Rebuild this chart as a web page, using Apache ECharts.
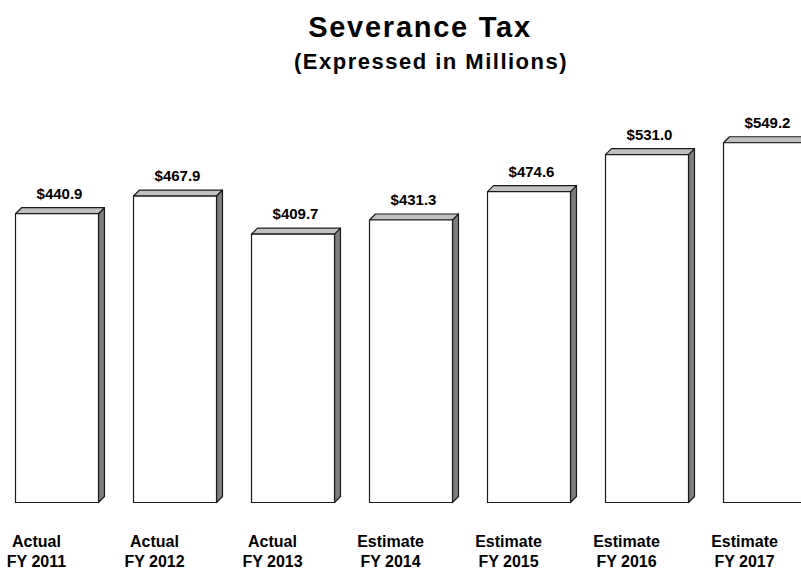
<!DOCTYPE html>
<html>
<head>
<meta charset="utf-8">
<title>Severance Tax</title>
<script src="https://cdn.jsdelivr.net/npm/echarts@6/dist/echarts.min.js"></script>
<style>
  html, body { margin: 0; padding: 0; background: #ffffff; }
  #chart { width: 801px; height: 571px; }
</style>
</head>
<body>
<div id="chart"></div>
<script>
// Fiscal-year severance tax collections, in millions of dollars
const stages = ['Actual', 'Actual', 'Actual', 'Estimate', 'Estimate', 'Estimate', 'Estimate'];
const fiscalYears = ['FY 2011', 'FY 2012', 'FY 2013', 'FY 2014', 'FY 2015', 'FY 2016', 'FY 2017'];
const revenue = [440.9, 467.9, 409.7, 431.3, 474.6, 531.0, 549.2];

const FONT = "'Liberation Sans', Arial, Helvetica, sans-serif";
const BAR_RATIO = 83 / 118;   // front face width as a share of the category band
const DEPTH = 6;              // depth of the extruded top and side faces, px

const categories = stages.map((s, i) => s + '\n' + fiscalYears[i]);

function renderBar(params, api) {
  const idx = api.value(0);
  const val = api.value(1);
  const topPt = api.coord([idx, val]);
  const basePt = api.coord([idx, 0]);
  const band = api.size([1, 0])[0];
  const w = band * BAR_RATIO;
  const x0 = topPt[0] - w / 2;
  const x1 = topPt[0] + w / 2;
  const yT = topPt[1];
  const yB = basePt[1];
  const d = DEPTH;
  const edge = { stroke: '#1a1a1a', lineWidth: 1.2, lineJoin: 'round' };
  return {
    type: 'group',
    children: [
      {
        type: 'polygon',
        shape: { points: [[x1, yT], [x1 + d, yT - d], [x1 + d, yB - d], [x1, yB]] },
        style: Object.assign({ fill: '#7d7d7d' }, edge)
      },
      {
        type: 'polygon',
        shape: { points: [[x0, yT], [x0 + d, yT - d], [x1 + d, yT - d], [x1, yT]] },
        style: Object.assign({ fill: '#c0c0c0' }, edge)
      },
      {
        type: 'rect',
        shape: { x: x0, y: yT, width: w, height: yB - yT },
        style: Object.assign({ fill: '#ffffff' }, edge)
      },
      {
        type: 'text',
        x: topPt[0] + 2.5,
        y: yT - d - 7,
        style: {
          text: '$' + val.toFixed(1),
          fill: '#000000',
          font: 'bold 15px ' + FONT,
          align: 'center',
          verticalAlign: 'bottom'
        }
      }
    ]
  };
}

const chart = echarts.init(document.getElementById('chart'), null, { renderer: 'svg' });

chart.setOption({
  animation: false,
  backgroundColor: '#ffffff',
  title: [
    {
      text: 'Severance Tax',
      left: 415,
      top: 7,
      textAlign: 'center',
      textStyle: { fontFamily: FONT, fontWeight: 'bold', fontSize: 29, color: '#000' }
    },
    {
      text: '(Expressed in Millions)',
      left: 426,
      top: 45,
      textAlign: 'center',
      textStyle: { fontFamily: FONT, fontWeight: 'bold', fontSize: 22, color: '#000' }
    }
  ],
  grid: {
    left: -2,
    width: 826,
    top: 109.5,
    bottom: 68.5,
    containLabel: false,
    outerBoundsMode: 'none'
  },
  xAxis: {
    type: 'category',
    data: categories,
    axisLine: { show: false },
    axisTick: { show: false },
    splitLine: { show: false },
    axisLabel: {
      interval: 0,
      margin: 29,
      padding: [0, 41, 0, 0],
      fontFamily: FONT,
      fontWeight: 'bold',
      fontSize: 16,
      lineHeight: 20,
      color: '#000'
    }
  },
  yAxis: {
    type: 'value',
    min: 0,
    max: 600,
    show: false
  },
  series: [
    {
      type: 'custom',
      renderItem: renderBar,
      clip: false,
      silent: true,
      data: revenue.map((v, i) => [i, v])
    }
  ]
});

// widen the tracking of the heading lines
const tracking = { 'Severance Tax': '1.75px', '(Expressed in Millions)': '1.5px' };
document.querySelectorAll('#chart svg text').forEach(t => {
  const ls = tracking[t.textContent];
  if (ls) t.style.letterSpacing = ls;
});
</script>
</body>
</html>
